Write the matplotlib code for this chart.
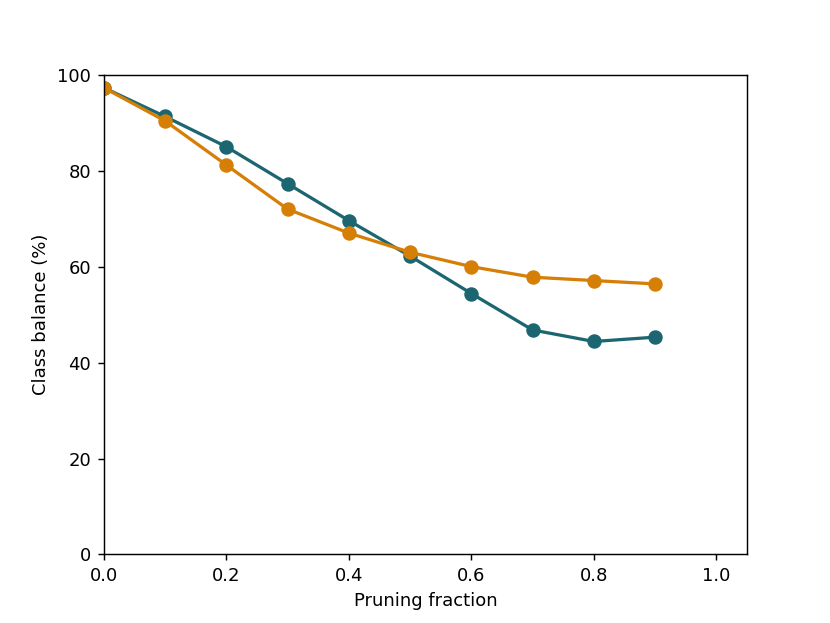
import numpy as np
import matplotlib
matplotlib.use("Agg")
import matplotlib.pyplot as plt

fractions = [0.0, 0.1, 0.2, 0.3, 0.4, 0.5, 0.6, 0.7, 0.8, 0.9]
balance_teal = [97.3, 91.3, 85.0, 77.3, 69.6, 62.2, 54.4, 46.8, 44.4, 45.3]
balance_orange = [97.3, 90.4, 81.2, 72.0, 67.0, 63.0, 60.0, 57.8, 57.1, 56.4]

fig, ax = plt.subplots(figsize=(830 / 130, 623 / 130), dpi=130)
ax.plot(fractions, balance_teal, "-o", color="#1b6670", lw=1.8, ms=7)
ax.plot(fractions, balance_orange, "-o", color="#d67f07", lw=1.8, ms=7)

ax.set_xlim(0, 1.05)
ax.set_ylim(0, 100)
ax.set_xlabel("Pruning fraction")
ax.set_ylabel("Class balance (%)")

fig.savefig("out.png", dpi=130)
